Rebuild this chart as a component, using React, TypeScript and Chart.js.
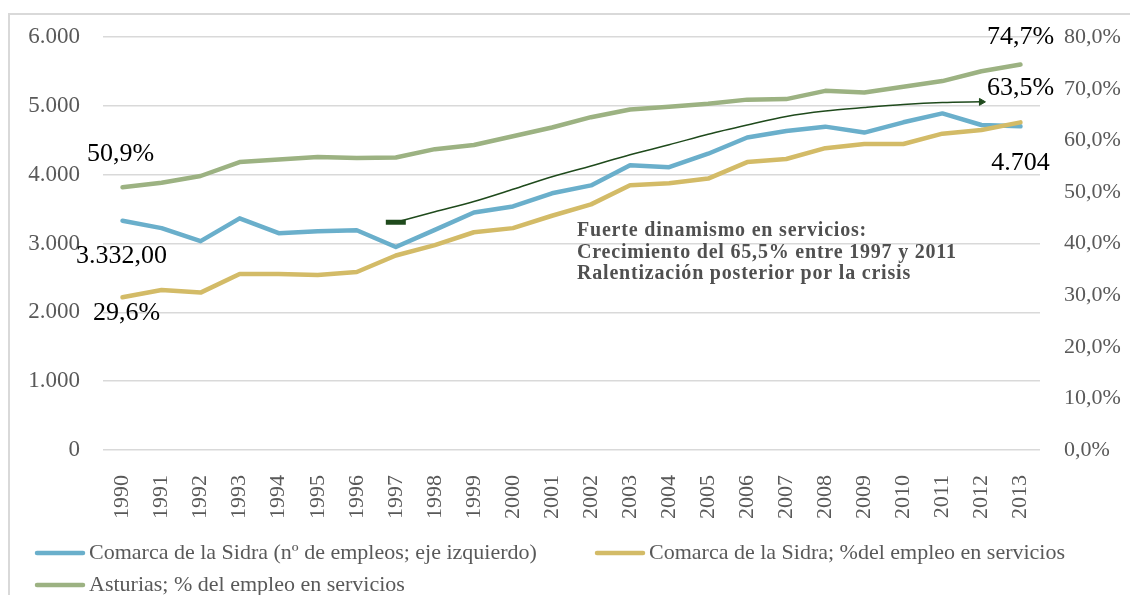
import React, { useEffect, useRef } from 'react';
import { Chart, registerables } from 'chart.js';

Chart.register(...registerables);

const years = ['1990', '1991', '1992', '1993', '1994', '1995', '1996', '1997', '1998', '1999', '2000', '2001', '2002', '2003', '2004', '2005', '2006', '2007', '2008', '2009', '2010', '2011', '2012', '2013'];

const empleosSidra = [3332, 3225, 3036, 3367, 3151, 3180, 3194, 2950, 3199, 3453, 3540, 3731, 3846, 4139, 4110, 4306, 4542, 4637, 4700, 4614, 4763, 4892, 4724, 4704];

const pctServiciosSidra = [29.6, 31.0, 30.5, 34.1, 34.1, 33.9, 34.5, 37.7, 39.7, 42.2, 43.0, 45.4, 47.6, 51.3, 51.7, 52.6, 55.8, 56.4, 58.5, 59.3, 59.3, 61.3, 62.0, 63.5];

const pctServiciosAsturias = [50.9, 51.8, 53.1, 55.8, 56.3, 56.8, 56.6, 56.7, 58.3, 59.1, 60.8, 62.5, 64.5, 66.0, 66.5, 67.1, 67.9, 68.0, 69.6, 69.3, 70.4, 71.5, 73.4, 74.7];

// hand-drawn trend arrow (left axis units)
const trendArrow = [null, null, null, null, null, null, null, 3309, 3463, 3612, 3789, 3971, 4129, 4292, 4436, 4590, 4724, 4849, 4928, 4978, 5022, 5050, 5060, null];

const seriesLabels = [
  'Comarca de la Sidra (nº de empleos; eje izquierdo)',
  'Comarca de la Sidra; %del empleo en servicios',
  'Asturias; % del empleo en servicios',
];

const annotationLines = [
  'Fuerte dinamismo en servicios:',
  'Crecimiento del 65,5% entre 1997 y 2011',
  'Ralentización posterior por la crisis',
];

const leftTicks = [0, 1000, 2000, 3000, 4000, 5000, 6000];
const rightTicks = [0, 10, 20, 30, 40, 50, 60, 70, 80];

const BLUE = '#6aafcb';
const YELLOW = '#d3bb67';
const GREEN = '#9cb282';
const TREND = '#1f4a1c';
const TEXT_GRAY = '#595959';
const FONT = '"Liberation Serif", "Times New Roman", serif';

const groupThousands = (v: number) => {
  const s = Math.round(Math.abs(v)).toString();
  return s.replace(/\B(?=(\d{3})+(?!\d))/g, '.');
};
const fmtEmp = (v: number, dec = 0) => {
  const int = groupThousands(Math.trunc(v));
  if (!dec) return int;
  const frac = Math.abs(v - Math.trunc(v)).toFixed(dec).slice(2);
  return int + ',' + frac;
};
const fmtPct = (v: number) => v.toFixed(1).replace('.', ',') + '%';

const dataLabelSpecs = [
  { ds: 2, idx: 0, text: fmtPct(pctServiciosAsturias[0]), dx: -2, dy: -33 },
  { ds: 0, idx: 0, text: fmtEmp(empleosSidra[0], 2), dx: -1, dy: 35 },
  { ds: 1, idx: 0, text: fmtPct(pctServiciosSidra[0]), dx: 4, dy: 16 },
  { ds: 2, idx: 23, text: fmtPct(pctServiciosAsturias[23]), dx: 0, dy: -27 },
  { ds: 1, idx: 23, text: fmtPct(pctServiciosSidra[23]), dx: 0, dy: -34 },
  { ds: 0, idx: 23, text: fmtEmp(empleosSidra[23]), dx: 0, dy: 37 },
];

const overlayPlugin = {
  id: 'overlay',
  afterDatasetsDraw(chart: any) {
    const ctx = chart.ctx;
    ctx.save();
    // data labels
    ctx.font = `26px ${FONT}`;
    ctx.fillStyle = '#000';
    ctx.textAlign = 'center';
    ctx.textBaseline = 'middle';
    dataLabelSpecs.forEach((s) => {
      const el = chart.getDatasetMeta(s.ds).data[s.idx];
      if (!el) return;
      ctx.fillText(s.text, el.x + s.dx, el.y + s.dy);
    });
    // annotation text
    const area = chart.chartArea;
    ctx.font = `bold 20px ${FONT}`;
    try { (ctx as any).letterSpacing = '0.8px'; } catch (e) { /* ignore */ }
    ctx.fillStyle = '#505050';
    ctx.textAlign = 'left';
    annotationLines.forEach((line, i) => {
      ctx.fillText(line, area.left + 474, area.top + 194 + i * 21.5);
    });
    try { (ctx as any).letterSpacing = '0px'; } catch (e) { /* ignore */ }
    ctx.restore();
  },
  afterDraw(chart: any) {
    // Excel-style legend laid out in columns
    const ctx = chart.ctx;
    ctx.save();
    ctx.font = `22px ${FONT}`;
    ctx.textBaseline = 'middle';
    ctx.textAlign = 'left';
    const x0 = 35;
    const y0 = 553;
    const colW = 560;
    const rowH = 32;
    const cols = 2;
    const boxW = 50;
    const gapText = 4;
    let k = 0;
    chart.data.datasets.forEach((ds: any) => {
      if (!ds.label) return;
      const x = x0 + (k % cols) * colW;
      const y = y0 + Math.floor(k / cols) * rowH;
      ctx.strokeStyle = ds.borderColor;
      ctx.lineWidth = 4.5;
      ctx.lineCap = 'round';
      ctx.beginPath();
      ctx.moveTo(x + 2, y);
      ctx.lineTo(x + boxW - 2, y);
      ctx.stroke();
      ctx.fillStyle = TEXT_GRAY;
      ctx.fillText(ds.label, x + boxW + gapText, y);
      k++;
    });
    ctx.restore();
  },
};

export default function App() {
  const canvasRef = useRef<HTMLCanvasElement | null>(null);

  useEffect(() => {
    if (!canvasRef.current) return;
    let lastTrend = -1;
    trendArrow.forEach((v, i) => { if (v !== null) lastTrend = i; });
    const firstTrend = trendArrow.findIndex((v) => v !== null);

    const chart = new Chart(canvasRef.current, {
      type: 'line',
      data: {
        labels: years,
        datasets: [
          {
            label: seriesLabels[0],
            data: empleosSidra,
            yAxisID: 'y',
            borderColor: BLUE,
            backgroundColor: BLUE,
            borderWidth: 4.5,
            pointRadius: 0,
            tension: 0,
            borderCapStyle: 'round',
            borderJoinStyle: 'round',
            order: 2,
          },
          {
            label: seriesLabels[1],
            data: pctServiciosSidra,
            yAxisID: 'y1',
            borderColor: YELLOW,
            backgroundColor: YELLOW,
            borderWidth: 4.5,
            pointRadius: 0,
            tension: 0,
            borderCapStyle: 'round',
            borderJoinStyle: 'round',
            order: 1,
          },
          {
            label: seriesLabels[2],
            data: pctServiciosAsturias,
            yAxisID: 'y1',
            borderColor: GREEN,
            backgroundColor: GREEN,
            borderWidth: 4.5,
            pointRadius: 0,
            tension: 0,
            borderCapStyle: 'round',
            borderJoinStyle: 'round',
            order: 3,
          },
          {
            label: '',
            data: trendArrow,
            yAxisID: 'y',
            borderColor: TREND,
            backgroundColor: TREND,
            borderWidth: 1.5,
            tension: 0.3,
            spanGaps: false,
            pointStyle: (c: any) => (c.dataIndex === firstTrend ? 'line' : 'triangle'),
            pointRadius: (c: any) => (c.dataIndex === firstTrend ? 10 : c.dataIndex === lastTrend ? 4 : 0),
            pointBorderWidth: (c: any) => (c.dataIndex === firstTrend ? 5 : 1),
            pointRotation: (c: any) => (c.dataIndex === firstTrend ? 0 : 90),
            order: 0,
          },
        ],
      },
      options: {
        responsive: false,
        maintainAspectRatio: false,
        animation: false,
        events: [],
        layout: { padding: { top: 33, left: 0, right: 0, bottom: 0 } },
        plugins: {
          legend: { display: false },
          tooltip: { enabled: false },
        },
        scales: {
          x: {
            offset: true,
            grid: { display: false, drawTicks: false },
            border: { display: false },
            ticks: {
              minRotation: 90,
              maxRotation: 90,
              autoSkip: false,
              padding: 25,
              color: TEXT_GRAY,
              font: { family: FONT, size: 22 },
            },
            afterFit: (s: any) => { s.height = 145; },
          },
          y: {
            position: 'left',
            min: 0,
            max: 6000,
            afterBuildTicks: (s: any) => { s.ticks = leftTicks.map((v) => ({ value: v })); },
            grid: { color: '#d9d9d9', lineWidth: 1.5, drawTicks: false },
            border: { display: false },
            ticks: {
              padding: 23,
              color: TEXT_GRAY,
              font: { family: FONT, size: 23 },
              callback: (v: any) => groupThousands(Number(v)),
            },
            afterFit: (s: any) => { s.width = 103; },
          },
          y1: {
            position: 'right',
            min: 0,
            max: 80,
            afterBuildTicks: (s: any) => { s.ticks = rightTicks.map((v) => ({ value: v })); },
            grid: { display: false, drawTicks: false },
            border: { display: false },
            ticks: {
              padding: 24,
              color: TEXT_GRAY,
              font: { family: FONT, size: 22 },
              callback: (v: any) => fmtPct(Number(v)),
            },
            afterFit: (s: any) => { s.width = 90; },
          },
        },
      },
      plugins: [overlayPlugin],
    } as any);
    return () => chart.destroy();
  }, []);

  return (
    <div style={{ position: 'fixed', left: 0, top: 0, width: 1130, height: 595, background: '#fff', overflow: 'hidden' }}>
      <canvas ref={canvasRef} width={1130} height={595} style={{ position: 'absolute', left: 0, top: 0, width: 1130, height: 595 }} />
      <div style={{ position: 'absolute', left: 8, top: 13, width: 1300, height: 800, borderLeft: '2px solid #d9d9d9', borderTop: '2px solid #d9d9d9', pointerEvents: 'none' }} />
    </div>
  );
}
